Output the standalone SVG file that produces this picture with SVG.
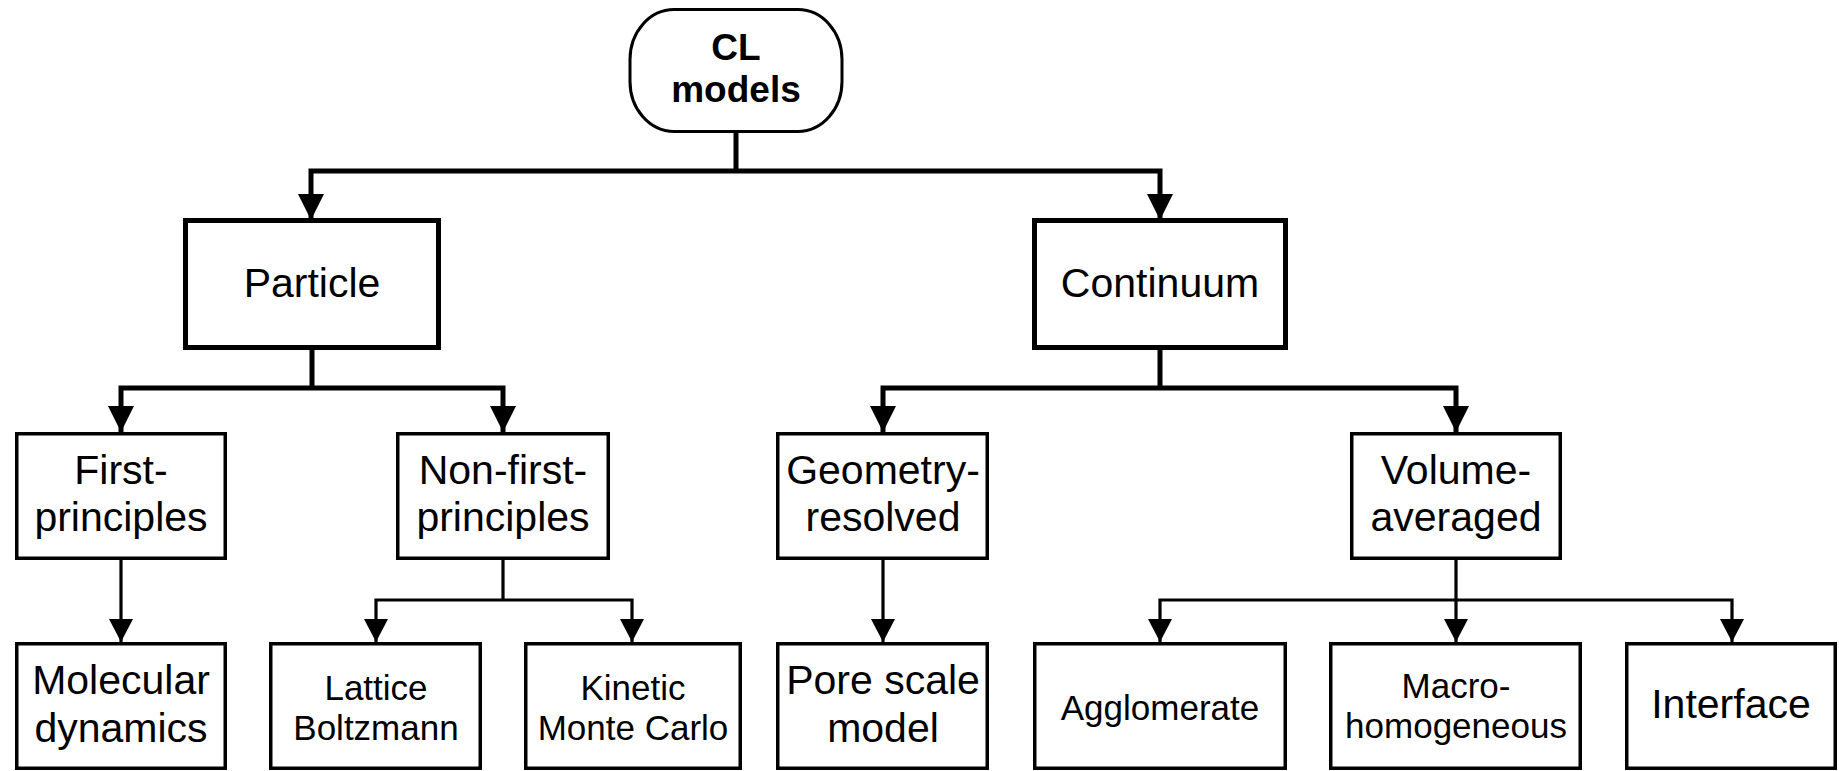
<svg xmlns="http://www.w3.org/2000/svg" width="1839" height="771" viewBox="0 0 1839 771">
<style>
.bg{fill:#fff}
.root{fill:#fff;stroke:#000;stroke-width:3}
.b1{fill:#fff;stroke:#000;stroke-width:5}
.b2{fill:#fff;stroke:#000;stroke-width:3.5}
.thick{fill:none;stroke:#000;stroke-width:5;stroke-linejoin:miter}
.thin{fill:none;stroke:#000;stroke-width:3.2;stroke-linejoin:miter}
text{font-family:"Liberation Sans",Arial,Helvetica,sans-serif;fill:#000;text-anchor:middle}
.tb{font-size:37px;font-weight:bold}
.tl{font-size:41px}
.ts{font-size:35px}
</style>
<defs>
<marker id="ah1" markerUnits="userSpaceOnUse" markerWidth="28" markerHeight="28" refX="26" refY="13" orient="auto" viewBox="0 0 28 26">
<path d="M0,0 L26,13 L0,26 z" fill="#000"/>
</marker>
<marker id="ah2" markerUnits="userSpaceOnUse" markerWidth="24" markerHeight="24" refX="21" refY="11" orient="auto" viewBox="0 0 22 22">
<path d="M0,0 L21,11 L0,22 z" fill="#000"/>
</marker>
</defs>
<rect class="bg" x="0" y="0" width="1839" height="771"/>
<g id="connectors">
<path class="thick" d="M736,133 V171"/>
<path class="thick" d="M736,171 H311 V220" marker-end="url(#ah1)"/>
<path class="thick" d="M736,171 H1160 V220" marker-end="url(#ah1)"/>
<path class="thick" d="M312,349 V388"/>
<path class="thick" d="M312,388 H121 V432" marker-end="url(#ah1)"/>
<path class="thick" d="M312,388 H503 V432" marker-end="url(#ah1)"/>
<path class="thick" d="M1160,349 V388"/>
<path class="thick" d="M1160,388 H883 V432" marker-end="url(#ah1)"/>
<path class="thick" d="M1160,388 H1456 V432" marker-end="url(#ah1)"/>
<path class="thin" d="M121,560 V642" marker-end="url(#ah2)"/>
<path class="thin" d="M503,560 V600"/>
<path class="thin" d="M503,600 H376 V642" marker-end="url(#ah2)"/>
<path class="thin" d="M503,600 H632 V642" marker-end="url(#ah2)"/>
<path class="thin" d="M883,560 V642" marker-end="url(#ah2)"/>
<path class="thin" d="M1456,560 V642" marker-end="url(#ah2)"/>
<path class="thin" d="M1456,600 H1160 V642" marker-end="url(#ah2)"/>
<path class="thin" d="M1456,600 H1732 V642" marker-end="url(#ah2)"/>
</g>
<g id="cl-models">
<rect class="root" x="630" y="9.5" width="212" height="122" rx="44" ry="50"/>
<text class="tb" x="736" y="60">CL</text>
<text class="tb" x="736" y="102">models</text>
</g>
<g id="particle">
<rect class="b1" x="185.5" y="220.5" width="253" height="127"/>
<text class="tl" x="312" y="297">Particle</text>
</g>
<g id="continuum">
<rect class="b1" x="1034.5" y="220.5" width="251" height="127"/>
<text class="tl" x="1160" y="297">Continuum</text>
</g>
<g id="first-principles">
<rect class="b2" x="16.75" y="433.75" width="208.5" height="124.5"/>
<text class="tl" x="121" y="484">First-</text>
<text class="tl" x="121" y="531">principles</text>
</g>
<g id="non-first-principles">
<rect class="b2" x="397.75" y="433.75" width="210.5" height="124.5"/>
<text class="tl" x="503" y="484">Non-first-</text>
<text class="tl" x="503" y="531">principles</text>
</g>
<g id="geometry-resolved">
<rect class="b2" x="777.75" y="433.75" width="209.5" height="124.5"/>
<text class="tl" x="883" y="484">Geometry-</text>
<text class="tl" x="883" y="531">resolved</text>
</g>
<g id="volume-averaged">
<rect class="b2" x="1351.75" y="433.75" width="208.5" height="124.5"/>
<text class="tl" x="1456" y="484">Volume-</text>
<text class="tl" x="1456" y="531">averaged</text>
</g>
<g id="molecular-dynamics">
<rect class="b2" x="16.75" y="643.75" width="208.5" height="124.5"/>
<text class="tl" x="121" y="694">Molecular</text>
<text class="tl" x="121" y="742">dynamics</text>
</g>
<g id="lattice-boltzmann">
<rect class="b2" x="270.75" y="643.75" width="209.5" height="124.5"/>
<text class="ts" x="376" y="700">Lattice</text>
<text class="ts" x="376" y="740">Boltzmann</text>
</g>
<g id="kinetic-monte-carlo">
<rect class="b2" x="525.75" y="643.75" width="214.5" height="124.5"/>
<text class="ts" x="633" y="700">Kinetic</text>
<text class="ts" x="633" y="740">Monte Carlo</text>
</g>
<g id="pore-scale-model">
<rect class="b2" x="777.75" y="643.75" width="209.5" height="124.5"/>
<text class="tl" x="883" y="694">Pore scale</text>
<text class="tl" x="883" y="742">model</text>
</g>
<g id="agglomerate">
<rect class="b2" x="1034.75" y="643.75" width="250.5" height="124.5"/>
<text class="ts" x="1160" y="720">Agglomerate</text>
</g>
<g id="macro-homogeneous">
<rect class="b2" x="1330.75" y="643.75" width="249.5" height="124.5"/>
<text class="ts" x="1456" y="698">Macro-</text>
<text class="ts" x="1456" y="738">homogeneous</text>
</g>
<g id="interface">
<rect class="b2" x="1626.75" y="643.75" width="208.5" height="124.5"/>
<text class="tl" x="1731" y="718">Interface</text>
</g>
</svg>
